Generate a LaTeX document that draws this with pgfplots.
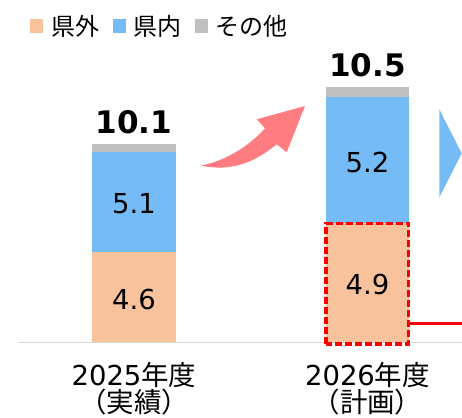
\documentclass[border=0pt]{standalone}
\usepackage{fontspec}
\setmainfont{DejaVu Sans}
\newfontfamily\jp{Noto Sans CJK JP}
\usepackage{pgfplots}
\pgfplotsset{compat=1.18}
\definecolor{kengai}{RGB}{248,194,156}
\definecolor{kennai}{RGB}{117,187,246}
\definecolor{sonota}{RGB}{191,191,191}
\definecolor{arrowred}{RGB}{255,124,128}
\definecolor{baseln}{RGB}{217,217,217}

% axis box: x 18..462 px, baseline at y=342.5 px of the 462x418 reference (1px = 0.75pt)
\pgfplotsset{
  barbase/.style={
    at={(13.5pt,56.625pt)}, anchor=south west, scale only axis,
    width=333pt, height=225pt,
    xmin=-0.4968, xmax=1.4047, ymin=0,
    ybar stacked, bar width=62.6pt, clip=false,
  },
}
\tikzset{
  seglabel/.style={anchor=center, inner sep=0pt, yshift=-1.5pt, font=\fontsize{20.6pt}{24pt}\selectfont},
  totlabel/.style={anchor=south, inner sep=0pt, yshift=7.3pt, font=\bfseries\fontsize{23.3pt}{28pt}\selectfont},
}

\begin{document}
\begin{tikzpicture}
\useasboundingbox (0pt,0pt) rectangle (346.5pt,313.5pt);

% 2025 (actual)
\begin{axis}[barbase, ymax=15.27,
  hide y axis, axis x line=bottom,
  x axis line style={-, draw=baseln, line width=1.1pt},
  xtick={0,1}, xtick style={draw=none},
  xticklabels={{2025{\jp 年度}\\{\jp （実績）}},{2026{\jp 年度}\\{\jp （計画）}}},
  xticklabel style={align=center, inner sep=0pt, anchor=north, yshift=-12.4pt,
    font=\fontsize{20.6pt}{18pt}\selectfont},
  legend columns=3,
  legend image code/.code={\fill[#1] (0pt,-4.9pt) rectangle (9.75pt,4.9pt);},
  legend style={draw=none, fill=none, inner sep=0pt, anchor=west,
    at={(axis description cs:0.027,1.055)},
    nodes={inner sep=0pt, font=\jp\fontsize{18pt}{20pt}\selectfont},
    /tikz/every odd column/.append style={column sep=6pt},
    /tikz/every even column/.append style={column sep=10pt}},
]
\addplot[draw=none, fill=kengai] coordinates {(0,4.6)};
\addplot[draw=none, fill=kennai] coordinates {(0,5.1)};
\addplot[draw=none, fill=sonota] coordinates {(0,0.4)};
\legend{県外,県内,その他}
\coordinate (a1) at (axis cs:0,2.3);
\coordinate (a2) at (axis cs:0,7.15);
\coordinate (at) at (axis cs:0,10.1);
\end{axis}

% 2026 (plan)
\begin{axis}[barbase, ymax=12.35, axis lines=none]
\addplot[draw=none, fill=kengai] coordinates {(1,4.9)};
\addplot[draw=none, fill=kennai] coordinates {(1,5.2)};
\addplot[draw=none, fill=sonota] coordinates {(1,0.4)};
\coordinate (b1) at (axis cs:1,2.45);
\coordinate (b2) at (axis cs:1,7.5);
\coordinate (bt) at (axis cs:1,10.5);
\coordinate (b0) at (axis cs:1,0);
\coordinate (bk) at (axis cs:1,4.9);
\end{axis}

% value labels, drawn over the bars
\node[seglabel] at (a1) {4.6};
\node[seglabel] at (a2) {5.1};
\node[totlabel] at (at) {10.1};
\node[seglabel] at (b1) {4.9};
\node[seglabel] at (b2) {5.2};
\node[totlabel] at (bt) {10.5};
\draw[red, line width=2.5pt, dash pattern=on 5.25pt off 2.25pt]
  ([xshift=-31pt,yshift=-1.1pt]b0) rectangle ([xshift=31pt]bk);

% decorations, in reference pixels measured from the bottom-left corner
\begin{scope}[x=0.75pt,y=0.75pt]
\fill[arrowred] (201,252.3) .. controls (232,246) and (255,256) .. (276.7,273.7)
  -- (286.7,265.7) -- (305,312) -- (256.7,298.7) -- (265,289.7)
  .. controls (250,273) and (228,258) .. cycle;
\fill[kennai] (439.3,308.7) -- (461.7,264.7) -- (439.3,220.7) -- cycle;
\draw[red, line width=2.25pt] (409,94.7) -- (462,94.7);
\end{scope}
\end{tikzpicture}
\end{document}
